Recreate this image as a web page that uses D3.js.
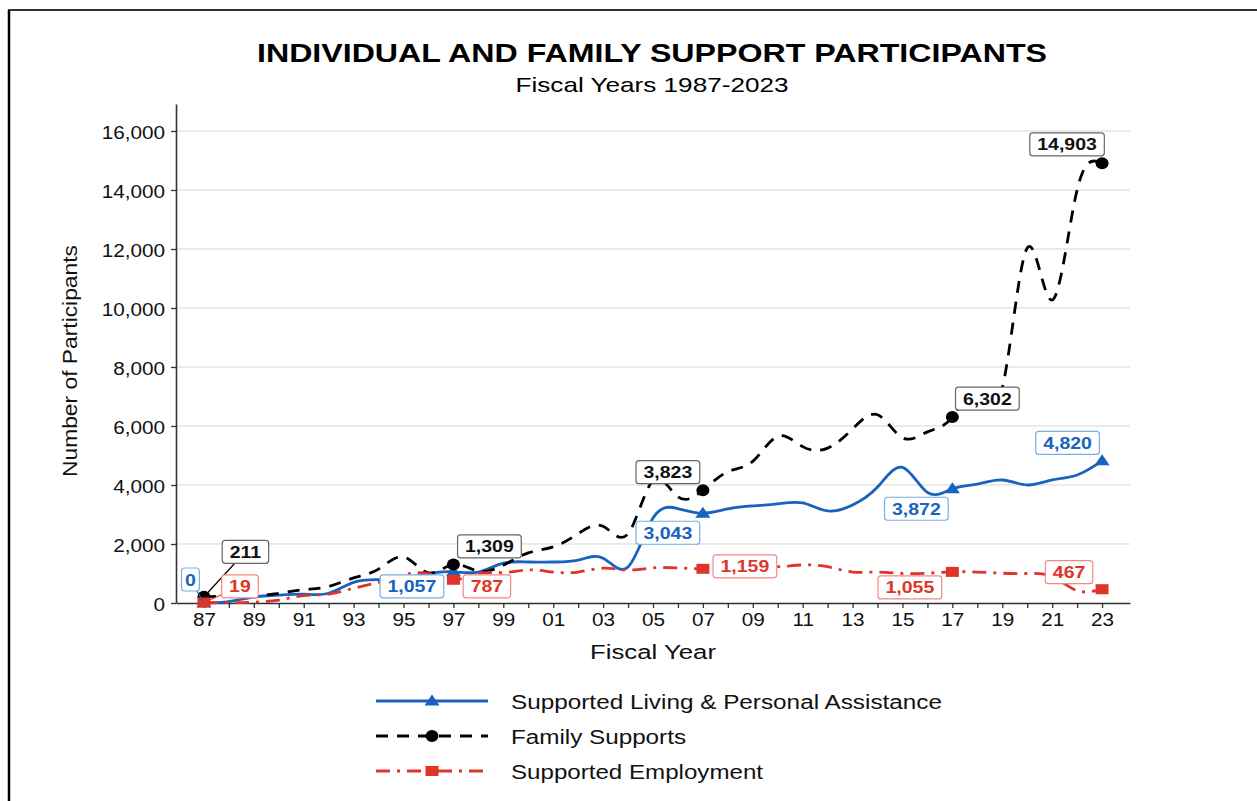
<!DOCTYPE html>
<html><head><meta charset="utf-8">
<script src="https://cdn.jsdelivr.net/npm/d3@7"></script>
<style>body{margin:0;background:#fff} svg{display:block}</style>
</head><body>
<svg id="c" width="1257" height="801"></svg>
<script>
// ---------------- DATA ----------------
const years = [1987,1988,1989,1990,1991,1992,1993,1994,1995,1996,1997,1998,1999,2000,2001,2002,2003,2004,2005,2006,2007,2008,2009,2010,2011,2012,2013,2014,2015,2016,2017,2018,2019,2020,2021,2022,2023];
const yTicks = [0,2000,4000,6000,8000,10000,12000,14000,16000];
const living = [0,50,200,270,300,330,700,790,850,1000,1057,1050,1350,1390,1390,1450,1520,1220,2880,3200,3043,3190,3290,3360,3390,3120,3320,3930,4600,3750,3872,4030,4170,4000,4170,4340,4820];
const family = [211,230,240,330,450,560,850,1150,1560,1020,1309,1080,1280,1700,1900,2350,2600,2350,4150,3600,3823,4450,4800,5650,5300,5250,5900,6380,5600,5800,6302,7250,7300,12030,10270,14000,14903];
const employment = [19,10,30,100,250,300,500,700,950,1000,787,1000,1030,1120,1050,1050,1180,1120,1190,1190,1159,1200,1230,1230,1290,1230,1050,1050,1000,1010,1055,1050,1010,1000,900,420,467];
const seriesNames = ["Supported Living & Personal Assistance","Family Supports","Supported Employment"];
const labeledYears = [1987,1997,2007,2017,2023];
const titleText = "INDIVIDUAL AND FAMILY SUPPORT PARTICIPANTS";
const subtitleText = "Fiscal Years 1987-2023";
const xTitle = "Fiscal Year";
const yTitle = "Number of Participants";

// ---------------- SETUP ----------------
const FONT = "'Liberation Sans', Arial, Helvetica, sans-serif";
const svg = d3.select("#c").style("font-family", FONT);
const x = d3.scaleLinear().domain([1985.88, 2024.12]).range([176, 1130]);
const y = d3.scaleLinear().domain([0, 16915]).range([603, 104]);

const BLUE = "#1763be", BLACK = "#000", RED = "#e03428";
const styles = [
  {color: BLUE, dash: null, marker: "triangle", box: "#78aee6", text: BLUE},
  {color: BLACK, dash: "12,9", marker: "circle", box: "#666", text: "#111"},
  {color: RED, dash: "14,7,3,7", marker: "square", box: "#f08a84", text: RED}
];
const seriesVals = [living, family, employment];

function stretch(sel, sx) {
  sel.each(function () {
    const w = this.getComputedTextLength();
    d3.select(this).attr("textLength", w * sx).attr("lengthAdjust", "spacingAndGlyphs");
  });
}
function fit(sel, target) { sel.attr("textLength", target).attr("lengthAdjust", "spacingAndGlyphs"); }

// frame
svg.append("line").attr("x1", 8).attr("y1", 10).attr("x2", 1257).attr("y2", 10).attr("stroke", "#333").attr("stroke-width", 2);
svg.append("line").attr("x1", 9).attr("y1", 10).attr("x2", 9).attr("y2", 801).attr("stroke", "#000").attr("stroke-width", 2.5);

// titles
svg.append("text").attr("x", 652).attr("y", 62).attr("text-anchor", "middle")
  .attr("font-size", 25.5).attr("font-weight", "bold").text(titleText).call(fit, 790);
svg.append("text").attr("x", 652).attr("y", 92).attr("text-anchor", "middle")
  .attr("font-size", 21).text(subtitleText).call(fit, 273);

// gridlines
svg.append("g").selectAll("line").data(yTicks.filter(d => d > 0)).join("line")
  .attr("x1", 176).attr("x2", 1130).attr("y1", d => y(d)).attr("y2", d => y(d))
  .attr("stroke", "#d6d6d6").attr("stroke-width", 1);

// axes
const gy = svg.append("g").attr("transform", "translate(176,0)")
  .call(d3.axisLeft(y).tickValues(yTicks).tickFormat(d3.format(",")).tickSize(5).tickSizeOuter(0).tickPadding(6));
const gx = svg.append("g").attr("transform", "translate(0,603)")
  .call(d3.axisBottom(x).tickValues(years).tickFormat(d => (d % 2 === 1) ? String(d).slice(2) : "").tickSize(5).tickSizeOuter(0).tickPadding(5));
[gx, gy].forEach(g => {
  g.select(".domain").attr("stroke", "#333").attr("stroke-width", 1.6);
  g.selectAll(".tick line").attr("stroke", "#333").attr("stroke-width", 1.3);
  g.selectAll(".tick text").attr("font-size", 18).attr("fill", "#111").attr("font-family", FONT);
});
gy.selectAll(".tick text").attr("dy", "0.42em").call(stretch, 1.15);
gx.selectAll(".tick text").call(stretch, 1.15);

// axis titles
svg.append("text").attr("x", 653).attr("y", 659).attr("text-anchor", "middle")
  .attr("font-size", 20).attr("fill", "#111").text(xTitle).call(fit, 126);
svg.append("text").attr("transform", "translate(77,361) rotate(-90)").attr("text-anchor", "middle")
  .attr("font-size", 20.5).attr("fill", "#111").text(yTitle).call(fit, 232);

// lines
const line = d3.line().x(d => x(d[0])).y(d => y(d[1])).curve(d3.curveNatural);
const lineG = svg.append("g");
seriesVals.forEach((vals, i) => {
  lineG.append("path").datum(years.map((yr, j) => [yr, vals[j]]))
    .attr("d", line).attr("fill", "none").attr("stroke", styles[i].color)
    .attr("stroke-width", 2.8).attr("stroke-dasharray", styles[i].dash);
});

// markers
function marker(g, type, cx, cy, color) {
  if (type === "triangle") {
    g.append("path").attr("d", `M${cx - 7.5},${cy + 4.5}L${cx + 7.5},${cy + 4.5}L${cx},${cy - 6.5}Z`).attr("fill", color);
  } else if (type === "circle") {
    g.append("ellipse").attr("cx", cx).attr("cy", cy).attr("rx", 6.5).attr("ry", 6).attr("fill", color);
  } else {
    g.append("rect").attr("x", cx - 6.5).attr("y", cy - 5).attr("width", 13).attr("height", 10).attr("fill", color);
  }
}
const markG = svg.append("g");
seriesVals.forEach((vals, i) => {
  labeledYears.forEach(yr => {
    const j = years.indexOf(yr);
    marker(markG, styles[i].marker, x(yr), y(vals[j]), styles[i].color);
  });
});

// data labels (offsets from the data point)
const annots = [
  {s: 0, yr: 1987, dx: -13.5, dy: -23.5, lead: true, pad: 7},
  {s: 1, yr: 1987, dx: 41.5, dy: -45, lead: true},
  {s: 2, yr: 1987, dx: 36, dy: -16, lead: true},
  {s: 0, yr: 1997, dx: -41.5, dy: 14.5},
  {s: 2, yr: 1997, dx: 33.5, dy: 6.5},
  {s: 1, yr: 1997, dx: 36, dy: -18},
  {s: 1, yr: 2007, dx: -35, dy: -18},
  {s: 0, yr: 2007, dx: -35, dy: 19.5},
  {s: 2, yr: 2007, dx: 42, dy: -2.5},
  {s: 0, yr: 2017, dx: -36, dy: 20},
  {s: 2, yr: 2017, dx: -42.5, dy: 15.5},
  {s: 1, yr: 2017, dx: 35, dy: -18.5},
  {s: 1, yr: 2023, dx: -35, dy: -19},
  {s: 0, yr: 2023, dx: -34.5, dy: -18},
  {s: 2, yr: 2023, dx: -33, dy: -17}
];
const fmt = d3.format(",");
const labG = svg.append("g");
annots.forEach(a => {
  const j = years.indexOf(a.yr);
  const v = seriesVals[a.s][j];
  const px = x(a.yr), py = y(v);
  const cx = px + a.dx, cy = py + a.dy;
  const st = styles[a.s];
  if (a.lead) {
    labG.append("line").attr("x1", cx).attr("y1", cy).attr("x2", px).attr("y2", py)
      .attr("stroke", st.color).attr("stroke-width", 1.2);
  }
  const g = labG.append("g");
  const rect = g.append("rect");
  const t = g.append("text").attr("x", cx).attr("y", cy + 6).attr("text-anchor", "middle")
    .attr("font-size", 16.5).attr("font-weight", "bold").attr("fill", st.text).text(fmt(v));
  const w = t.node().getComputedTextLength() * 1.18;
  t.attr("textLength", w).attr("lengthAdjust", "spacingAndGlyphs");
  const bw = w + (a.pad !== undefined ? a.pad : 15), bh = 23;
  rect.attr("x", cx - bw / 2).attr("y", cy - bh / 2).attr("width", bw).attr("height", bh)
    .attr("rx", 3).attr("fill", "#fff").attr("stroke", st.box).attr("stroke-width", 1.2);
});

// legend
const legY = [701, 736, 771];
const legW = [431, 175, 252];
const legG = svg.append("g");
seriesNames.forEach((name, i) => {
  const st = styles[i];
  legG.append("line").attr("x1", 376).attr("x2", 488).attr("y1", legY[i]).attr("y2", legY[i])
    .attr("stroke", st.color).attr("stroke-width", 2.8).attr("stroke-dasharray", st.dash);
  marker(legG, st.marker, 432, legY[i], st.color);
  legG.append("text").attr("x", 511).attr("y", legY[i] + 7.5).attr("font-size", 19.5).attr("fill", "#111")
    .text(name).call(fit, legW[i]);
});
</script>
</body></html>
